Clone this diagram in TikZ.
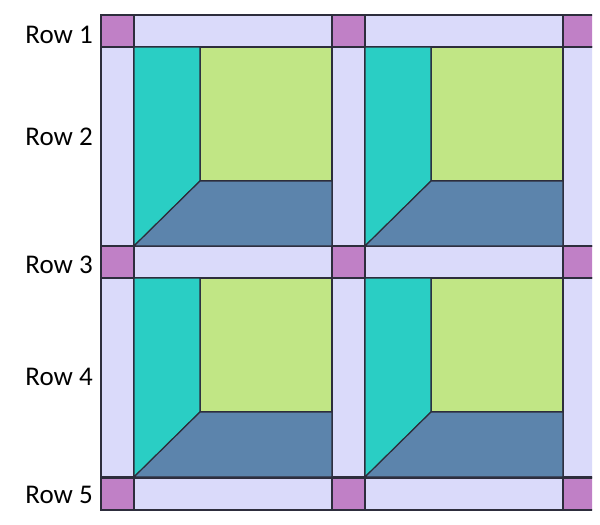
\documentclass[tikz,border=0pt]{standalone}
\usepackage{fontspec}
\setmainfont{Carlito}
\definecolor{sashP}{RGB}{192,128,198}
\definecolor{sashL}{RGB}{218,218,250}
\definecolor{tealC}{RGB}{42,206,196}
\definecolor{greenC}{RGB}{193,230,133}
\definecolor{blueC}{RGB}{92,132,172}
\definecolor{edgeC}{RGB}{45,45,60}
\tikzset{
  part/.style={draw=edgeC, line width=1.2pt, line join=miter},
  rowlabel/.style={anchor=east, font=\fontsize{27}{30}\selectfont, inner sep=0pt}
}
\begin{document}
\begin{tikzpicture}[x=1pt,y=-1pt]
\useasboundingbox (0,0) rectangle (600,525);
\begin{scope}
\clip (95,10) rectangle (592,515);
% sashing
\foreach \x in {101,332,563}{
  \foreach \y in {15,246,478}{
    \filldraw[part, fill=sashP] (\x,\y) rectangle ++(33,32);
  }
}
\foreach \x in {134,365}{
  \foreach \y in {15,246,478}{
    \filldraw[part, fill=sashL] (\x,\y) rectangle ++(198,32);
  }
}
\foreach \x in {101,332,563}{
  \foreach \y in {47,278}{
    \filldraw[part, fill=sashL] (\x,\y) rectangle ++(33,199);
  }
}
% blocks
\foreach \x in {134,365}{
  \foreach \y in {47,278}{
    \filldraw[part, fill=greenC] (\x+66,\y) rectangle (\x+198,\y+134);
    \filldraw[part, fill=tealC] (\x,\y) -- (\x+66,\y) -- (\x+66,\y+134) -- (\x,\y+199) -- cycle;
    \filldraw[part, fill=blueC] (\x+66,\y+134) -- (\x+198,\y+134) -- (\x+198,\y+199) -- (\x,\y+199) -- cycle;
  }
}
\end{scope}
\node[rowlabel] (r1) at (93,35) {Row 1};
\node[rowlabel] (r2) at (93,137) {Row 2};
\node[rowlabel] (r3) at (93,265) {Row 3};
\node[rowlabel] (r4) at (93,377) {Row 4};
\node[rowlabel] (r5) at (93,495) {Row 5};
\end{tikzpicture}
\end{document}
